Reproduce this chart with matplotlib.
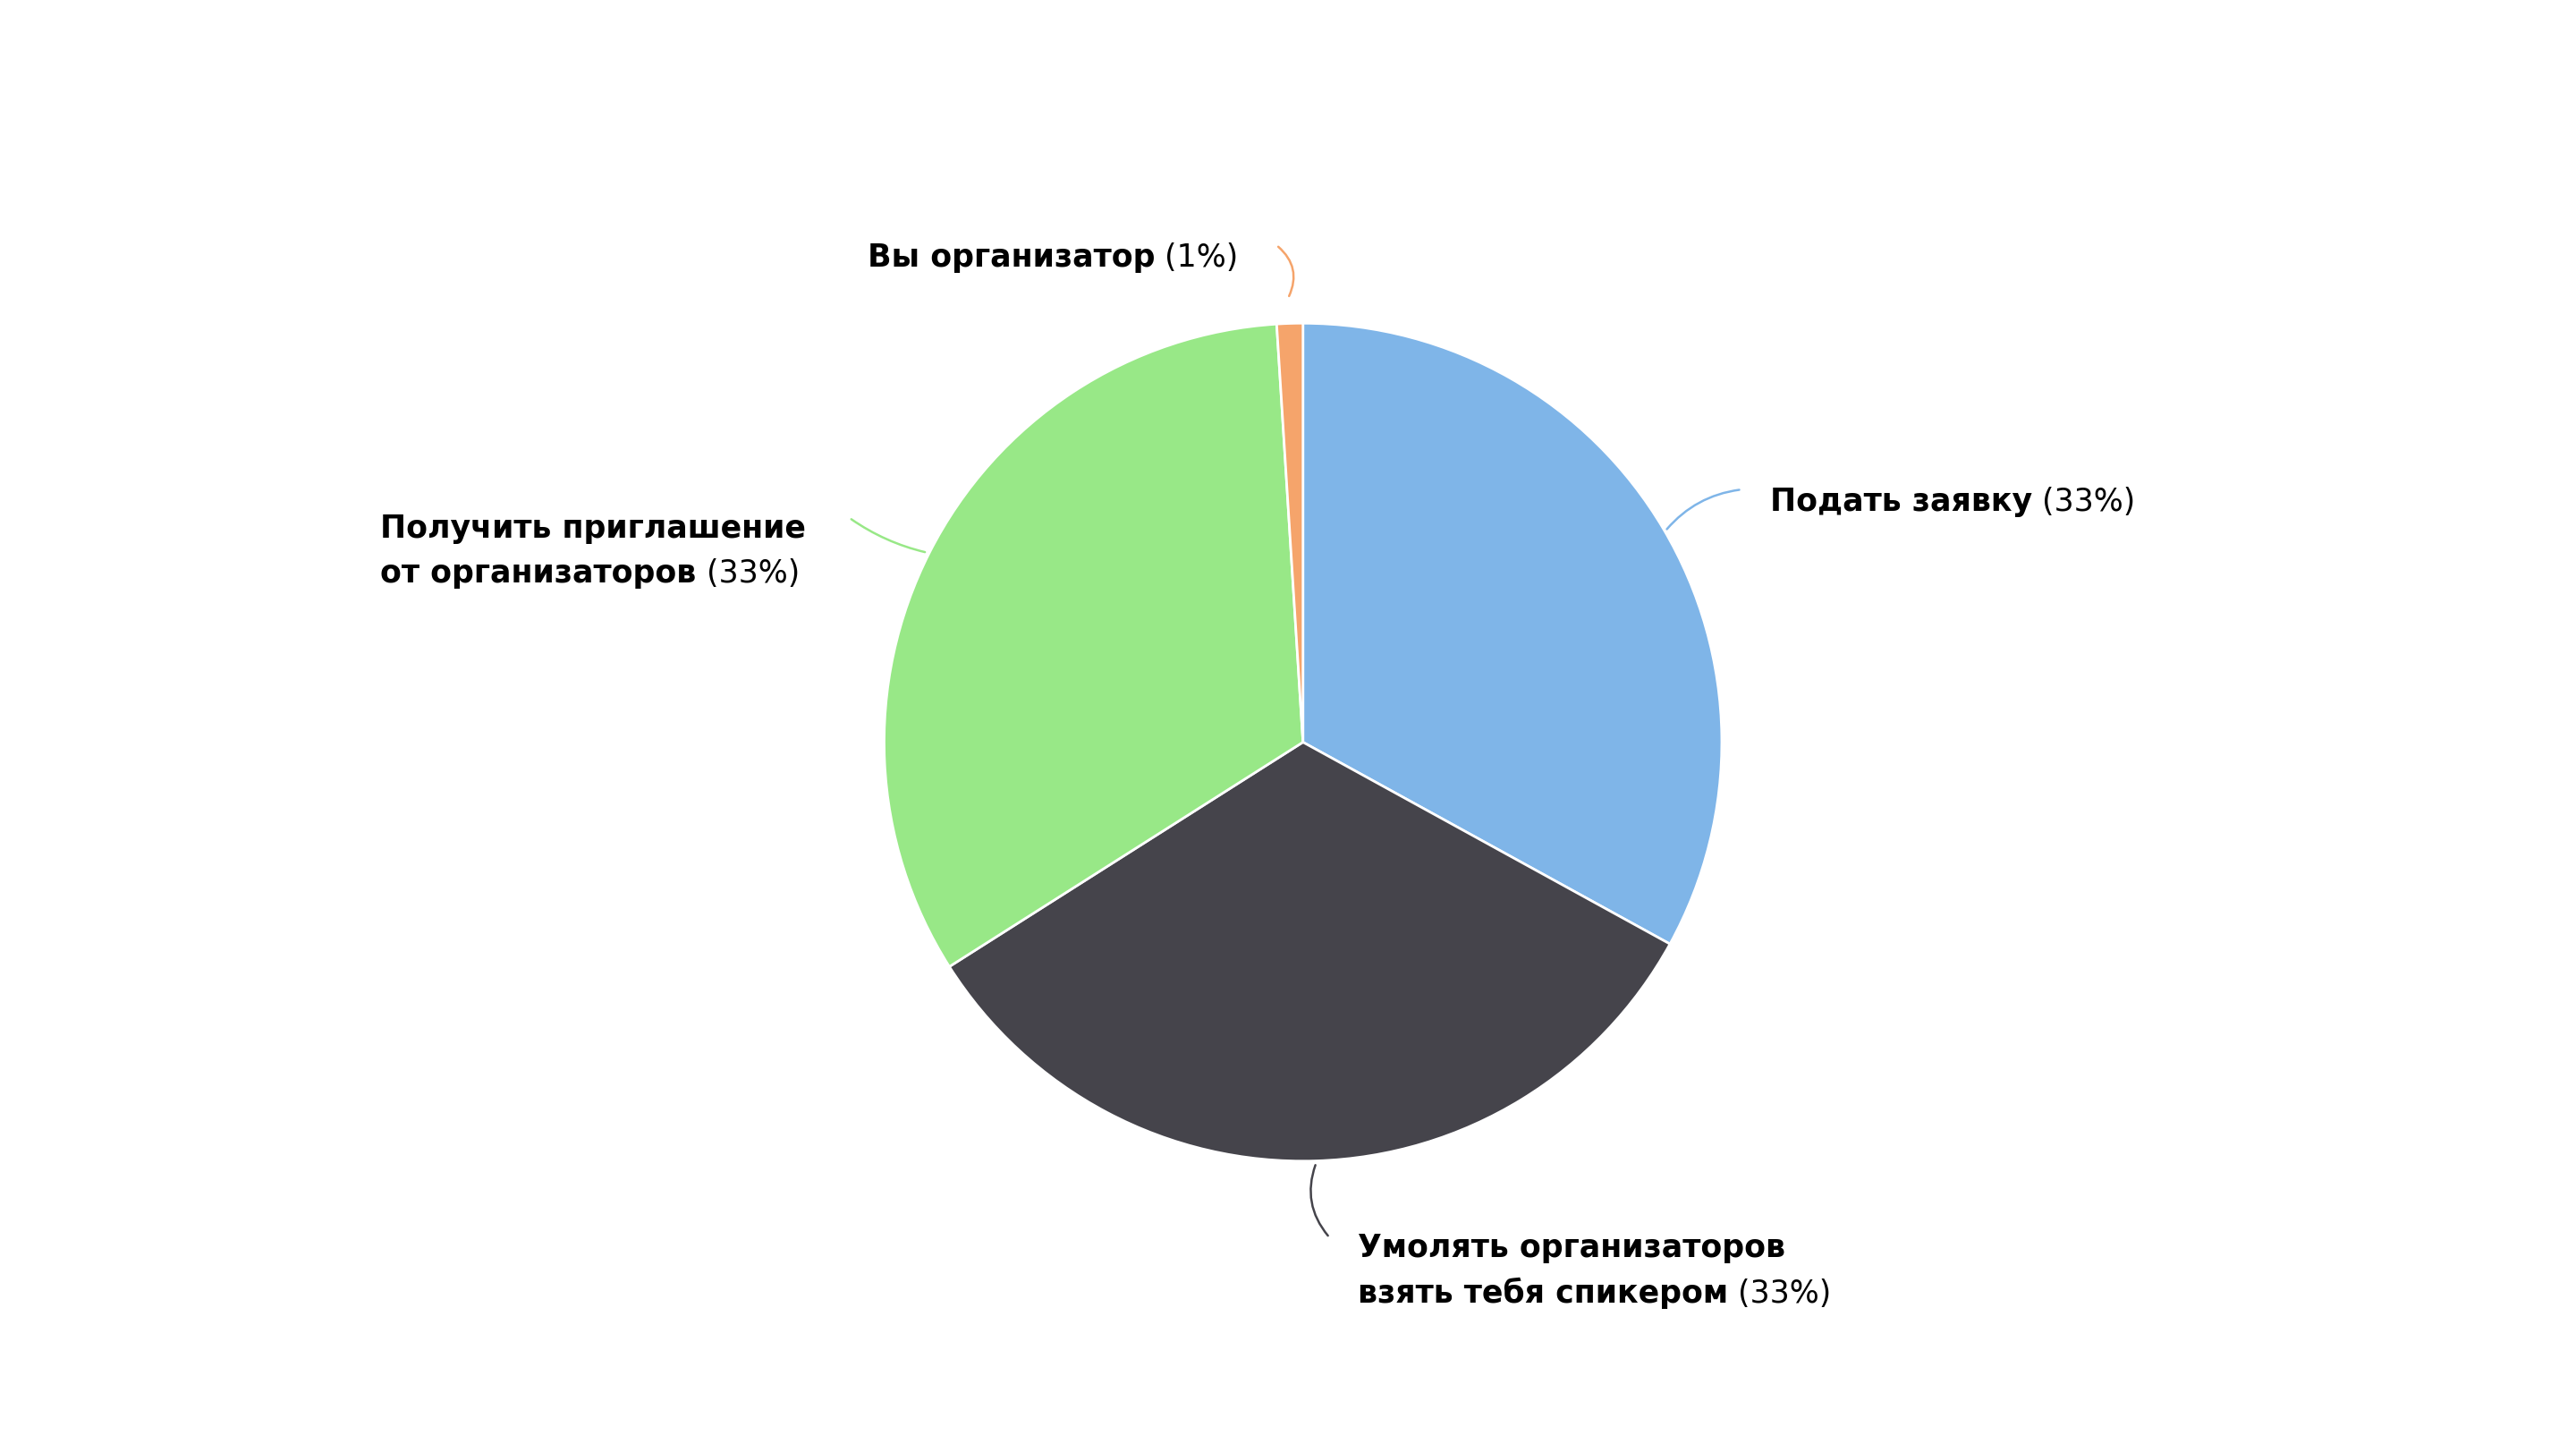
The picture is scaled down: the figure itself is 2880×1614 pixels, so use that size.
import matplotlib.pyplot as plt

labels = ["Подать заявку", "Умолять организаторов\nвзять тебя спикером",
          "Получить приглашение\nот организаторов", "Вы организатор"]
values = [33, 33, 33, 1]
pcts = ["(33%)", "(33%)", "(33%)", "(1%)"]
colors = ["#7FB5E8", "#45444B", "#98E887", "#F5A46B"]

W, H = 2880, 1615
S = W / 1550.0


def P(x, y):
    # экранные координаты эталона -> координаты фигуры
    return (x * S, H - y * S)


fig = plt.figure(figsize=(28.8, 16.15), dpi=100)
ax = fig.add_axes([0, 0, 1, 1])

ax.pie(values, colors=colors, startangle=90, counterclock=False,
       center=P(784, 447), radius=252 * S, explode=[0, 0, 0, 0.06],
       wedgeprops=dict(edgecolor="white", linewidth=2))

# pie сам выставляет пределы, поэтому задаём их после
ax.set_xlim(0, W)
ax.set_ylim(0, H)
ax.set_aspect("equal")
ax.axis("off")

# (точка на секторе, точка у подписи, позиция подписи, изгиб)
anns = [
    ((1002, 320), (1048, 295), (1065, 302), 0.2),
    ((792, 700), (800, 745), (817, 751), -0.3),
    ((558, 333), (511, 312), (229, 318), 0.1),
    ((775, 180), (768, 148), (522, 155), -0.4),
]

fs = 25
for i, (a, b, t, rad) in enumerate(anns):
    ax.annotate("", xy=P(*a), xytext=P(*b),
                arrowprops=dict(arrowstyle="-", color=colors[i], lw=1.8,
                                connectionstyle=f"arc3,rad={rad}"))
    lines = labels[i].split("\n")
    x, y = P(*t)
    last = None
    for k, line in enumerate(lines):
        last = ax.text(x, y - k * 27 * S, line, fontsize=fs, fontweight="bold",
                       ha="left", va="center", color="black")
    ax.annotate(" " + pcts[i], xycoords=last, xy=(1, 0.5), va="center",
                ha="left", fontsize=fs, color="black")

fig.savefig("out.png", dpi=100, facecolor="white")
